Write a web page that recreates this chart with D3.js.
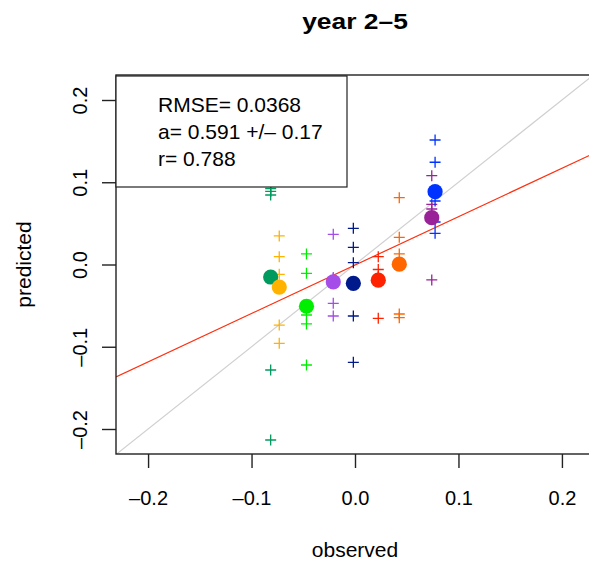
<!DOCTYPE html>
<html>
<head>
<meta charset="utf-8">
<script src="https://cdn.jsdelivr.net/npm/d3@7"></script>
<style>
  body { margin: 0; background: #fff; }
  svg { display: block; font-family: "Liberation Sans", Arial, sans-serif; }
</style>
</head>
<body>
<div id="chart"></div>
<script>
// one group per colour: observed value (x) and the predicted members (y)
const groupColors = ['#009a5e', '#ffb300', '#00ee00', '#a54de8', '#001a8c', '#ff2200', '#ff6600', '#992299', '#0033ff']
const observed = [-0.0815, -0.0732, -0.0469, -0.0210, -0.0016, 0.0225, 0.0428, 0.0742, 0.0774]
const predicted = [
  [0.0924, 0.0888, 0.0845, -0.1283, -0.2134],
  [0.0347, 0.0095, -0.0119, -0.0736, -0.0958],
  [0.0128, -0.0107, -0.0614, -0.0723, -0.1222],
  [0.0367, -0.0158, -0.0170, -0.0472, -0.0626],
  [0.0440, 0.0209, 0.0022, -0.0626, -0.1189],
  [0.0095, -0.0061, -0.0146, -0.0188, -0.0654],
  [0.0812, 0.0331, 0.0128, -0.0602, -0.0647],
  [0.1080, 0.0732, 0.0675, 0.0547, -0.0188],
  [0.1514, 0.1243, 0.0772, 0.0517, 0.0379]
]
const xTicks = [-0.2, -0.1, 0.0, 0.1, 0.2]
const yTicks = [-0.2, -0.1, 0.0, 0.1, 0.2]
const statLines = ['RMSE= 0.0368', 'a= 0.591 +/\u2013 0.17', 'r= 0.788']
const title = 'year 2\u20135'

const W = 589, H = 562
const pLeft = 116, pRight = 594, pTop = 75, pBottom = 454

let svg = d3.select('#chart').append('svg').attr('width', W).attr('height', H)

let x = d3.scaleLinear().domain([-0.231, 0.231]).range([pLeft, pRight])
let y = d3.scaleLinear().domain([-0.2304, 0.2304]).range([pBottom, pTop])

svg.append('clipPath').attr('id', 'plotclip')
  .append('rect').attr('x', pLeft).attr('y', pTop).attr('width', pRight - pLeft).attr('height', pBottom - pTop)

// group means
let means = predicted.map(function(p) { return d3.mean(p) })

// least squares fit of the means on observed
let mx = d3.mean(observed), my = d3.mean(means)
let sxy = d3.sum(observed, function(v, i) { return (v - mx) * (means[i] - my) })
let sxx = d3.sum(observed, function(v) { return (v - mx) * (v - mx) })
let slope = sxy / sxx
let icept = my - slope * mx

let lines = svg.append('g').attr('clip-path', 'url(#plotclip)')
let xd = x.domain()
lines.append('line')
  .attr('x1', x(xd[0])).attr('y1', y(xd[0]))
  .attr('x2', x(xd[1])).attr('y2', y(xd[1]))
  .attr('stroke', '#d0d0d0').attr('stroke-width', 1.2)
lines.append('line')
  .attr('x1', x(xd[0])).attr('y1', y(icept + slope * xd[0]))
  .attr('x2', x(xd[1])).attr('y2', y(icept + slope * xd[1]))
  .attr('stroke', '#ff3010').attr('stroke-width', 1.2)

// crosses
let crossData = []
predicted.forEach(function(p, i) {
  p.forEach(function(v) { crossData.push({ x: observed[i], y: v, c: groupColors[i] }) })
})
let cs = 5.5
svg.append('g').selectAll('path')
  .data(crossData)
  .enter()
  .append('path')
    .attr('d', function(d) {
      let cx = x(d.x), cy = y(d.y)
      return 'M' + (cx - cs) + ',' + cy + 'H' + (cx + cs) + 'M' + cx + ',' + (cy - cs) + 'V' + (cy + cs)
    })
    .attr('stroke', function(d) { return d.c })
    .attr('stroke-width', 1.3)
    .attr('fill', 'none')

// mean circles
svg.append('g').selectAll('circle')
  .data(observed)
  .enter()
  .append('circle')
    .attr('cx', function(d) { return x(d) })
    .attr('cy', function(d, i) { return y(means[i]) })
    .attr('r', 7.6)
    .attr('fill', function(d, i) { return groupColors[i] })

// plot box (right side is outside the window)
svg.append('rect')
  .attr('x', pLeft).attr('y', pTop).attr('width', pRight - pLeft).attr('height', pBottom - pTop)
  .attr('fill', 'none').attr('stroke', '#222').attr('stroke-width', 1.4)

let fmt = function(v) { return d3.format('.1f')(v).replace('-', '\u2013').replace('\u2212', '\u2013') }

let xAxis = svg.append('g').attr('transform', 'translate(0,' + pBottom + ')')
  .call(d3.axisBottom(x).tickValues(xTicks).tickSize(14).tickSizeOuter(0).tickFormat(fmt))
xAxis.select('.domain').remove()
xAxis.selectAll('.tick line').attr('stroke', '#222').attr('stroke-width', 1.4)
xAxis.selectAll('.tick text').attr('font-size', 20).attr('font-family', null).attr('fill', '#000')
  .attr('dy', null).attr('y', 51)

let yAxis = svg.append('g').attr('transform', 'translate(' + pLeft + ',0)')
  .call(d3.axisLeft(y).tickValues(yTicks).tickSize(14).tickSizeOuter(0).tickFormat(fmt))
yAxis.select('.domain').remove()
yAxis.selectAll('.tick line').attr('stroke', '#222').attr('stroke-width', 1.4)
yAxis.selectAll('.tick text').attr('font-size', 20).attr('font-family', null).attr('fill', '#000')
  .attr('x', null).attr('dy', null)
  .attr('text-anchor', 'middle')
  .attr('transform', 'translate(-29,0) rotate(-90)')

// stats box
svg.append('rect')
  .attr('x', pLeft).attr('y', 76).attr('width', 231).attr('height', 111)
  .attr('fill', '#fff').attr('stroke', '#222').attr('stroke-width', 1.2)
svg.append('g').selectAll('text')
  .data(statLines)
  .enter()
  .append('text')
    .attr('x', 158)
    .attr('y', function(d, i) { return 112 + i * 27 })
    .attr('font-size', 21)
    .text(function(d) { return d })

// title is drawn a bit wider, as in the reference
svg.append('text')
  .attr('transform', 'translate(' + (pLeft + pRight) / 2 + ',29) scale(1.2,1)')
  .attr('text-anchor', 'middle').attr('font-size', 22).attr('font-weight', 'bold')
  .text(title)

svg.append('text')
  .attr('x', (pLeft + pRight) / 2).attr('y', 557)
  .attr('text-anchor', 'middle').attr('font-size', 21)
  .text('observed')

svg.append('text')
  .attr('transform', 'translate(31,' + (pTop + pBottom) / 2 + ') rotate(-90)')
  .attr('text-anchor', 'middle').attr('font-size', 21)
  .text('predicted')
</script>
</body>
</html>
